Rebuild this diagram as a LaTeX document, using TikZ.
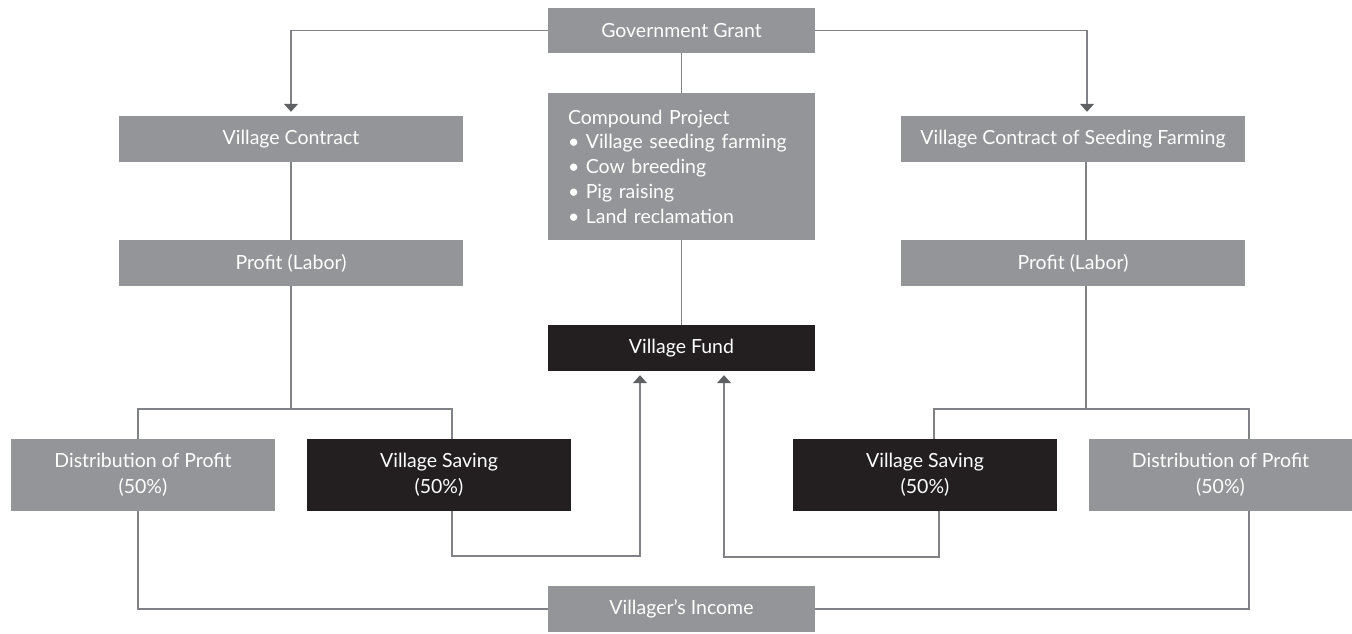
\documentclass[tikz,border=0pt]{standalone}
\usepackage{fontspec}
\setmainfont{Lato}
\usetikzlibrary{arrows.meta,calc}
\definecolor{boxgray}{HTML}{939598}
\definecolor{boxblack}{HTML}{231F20}
\definecolor{linegray}{HTML}{808285}
\definecolor{tipgray}{HTML}{5F6062}
\tikzset{
  gbox/.style={fill=boxgray,text=white,inner sep=0pt,align=center,font=\fontsize{19.5}{26}\selectfont},
  bbox/.style={fill=boxblack,text=white,inner sep=0pt,align=center,font=\fontsize{19.5}{26}\selectfont},
  conn/.style={draw=linegray,line width=1.2pt},
  arr/.style={conn,-{Triangle[width=14pt,length=8pt,color=tipgray]},shorten >=4pt},
}
\begin{document}
\begin{tikzpicture}[x=1pt,y=-1pt]
\useasboundingbox (0,0) rectangle (1352,634);
% nodes
\node[gbox,minimum width=267pt,minimum height=45pt] (gg) at (681.5,30.5) {Government Grant};
\node[gbox,minimum width=344pt,minimum height=46pt] (vc) at (291,139) {Village Contract};
\node[gbox,minimum width=344pt,minimum height=46pt] (vcs) at (1073,139) {Village Contract of Seeding Farming};
\node[gbox,minimum width=267pt,minimum height=147pt,text width=227pt,align=left,inner xsep=20pt,font=\fontsize{19.5}{24.7}\selectfont] (cp) at (681.5,166.5) {Compound Project\\• Village seeding farming\\• Cow breeding\\• Pig raising\\• Land reclamation};
\node[gbox,minimum width=344pt,minimum height=46pt] (pl) at (291,263) {Profit (Labor)};
\node[gbox,minimum width=344pt,minimum height=46pt] (pr) at (1073,263) {Profit (Labor)};
\node[bbox,minimum width=267pt,minimum height=46pt] (vf) at (681.5,348) {Village Fund};
\node[gbox,minimum width=264pt,minimum height=72pt] (dl) at (143,475) {Distribution of Profit\\(50\%)};
\node[bbox,minimum width=264pt,minimum height=72pt] (vsl) at (439,475) {Village Saving\\(50\%)};
\node[bbox,minimum width=264pt,minimum height=72pt] (vsr) at (925,475) {Village Saving\\(50\%)};
\node[gbox,minimum width=263pt,minimum height=72pt] (dr) at (1220.5,475) {Distribution of Profit\\(50\%)};
\node[gbox,minimum width=267pt,minimum height=46pt] (vi) at (681.5,609) {Villager’s Income};
% helper coordinates
\coordinate (tR) at (1087,30);
\coordinate (bL1) at (138,409);
\coordinate (bL2) at (452,409);
\coordinate (bR1) at (934,409);
\coordinate (bR2) at (1249,409);
\coordinate (sL) at (640,556);
\coordinate (sR) at (724,557);
\coordinate (vsrx) at (939,557);
\coordinate (prx) at (1086,409);
% connectors
\draw[arr] (gg.west) -| (vc.north);
\draw[arr] (gg.east) -| (vcs.north -| tR);
\draw[conn] (gg.south) -- (cp.north);
\draw[conn] (cp.south) -- (vf.north);
\draw[conn] (vc.south) -- (pl.north);
\draw[conn] (vcs.south -| prx) -- (pr.north -| prx);
\draw[conn] (pl.south) -- (pl.south |- bL1);
\draw[conn] (dl.north -| bL1) -- (bL1) -- (bL2) -- (vsl.north -| bL2);
\draw[conn] (pr.south -| prx) -- (prx);
\draw[conn] (vsr.north -| bR1) -- (bR1) -- (bR2) -- (dr.north -| bR2);
\draw[arr] (vsl.south -| bL2) |- (sL) -- (vf.south -| sL);
\draw[arr] (vsr.south -| vsrx) -- (vsrx) -- (sR) -- (vf.south -| sR);
\draw[conn] (dl.south -| bL1) |- (vi.west);
\draw[conn] (dr.south -| bR2) |- (vi.east);
\end{tikzpicture}
\end{document}
